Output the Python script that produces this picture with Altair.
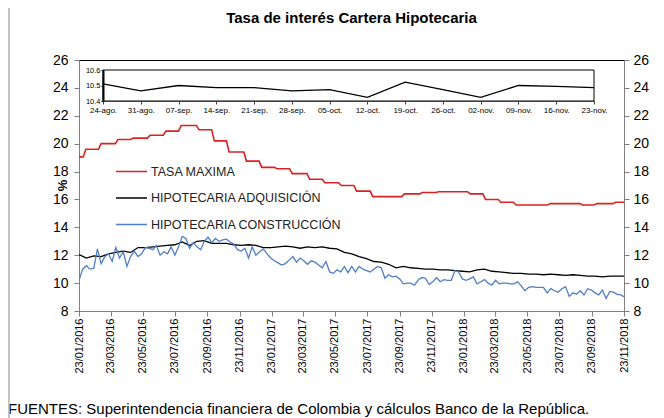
import altair as alt
import pandas as pd

# ---------------- data ----------------
start = "2016-01-23"
end = "2018-11-23"

# TASA MAXIMA: monthly levels (date the new level takes effect, value)
red_start = ["2016-01-23", "2016-02-03", "2016-03-03", "2016-04-04", "2016-05-03",
             "2016-06-04", "2016-07-04", "2016-08-02", "2016-09-05", "2016-10-04",
             "2016-11-01", "2016-12-04", "2017-01-02", "2017-01-31", "2017-03-01",
             "2017-04-03", "2017-05-02", "2017-06-02", "2017-07-01", "2017-08-01",
             "2017-09-30", "2017-11-03", "2017-12-04", "2018-02-02", "2018-03-03",
             "2018-04-01", "2018-04-30", "2018-07-04", "2018-09-03", "2018-09-30",
             "2018-11-05"]
red_val = [19.05, 19.6, 20.0, 20.3, 20.4, 20.6, 20.9, 21.3, 21.0, 20.2,
           19.4, 18.75, 18.3, 18.2, 17.85, 17.45, 17.2, 17.0, 16.6, 16.2,
           16.4, 16.5, 16.55, 16.4, 16.0, 15.8, 15.6, 15.7, 15.6, 15.7,
           15.8]

# HIPOTECARIA ADQUISICION: every two weeks from start
black_val = [12.05, 11.8, 11.95, 11.9, 12.1, 12.2, 12.3, 12.2, 12.55, 12.55,
             12.6, 12.65, 12.7, 12.75, 12.95, 12.7, 13.0, 13.05, 12.85, 12.85,
             12.85, 12.75, 12.7, 12.75, 12.7, 12.55, 12.55, 12.6, 12.65, 12.6,
             12.5, 12.6, 12.55, 12.6, 12.5, 12.45, 12.2, 12.1, 11.9, 11.75,
             11.55, 11.5, 11.35, 11.1, 11.2, 11.1, 11.05, 11.0, 11.0, 10.95,
             10.95, 10.9, 10.85, 10.8, 10.95, 11.0, 10.85, 10.8, 10.75, 10.7,
             10.7, 10.65, 10.65, 10.6, 10.65, 10.6, 10.55, 10.6, 10.55, 10.5,
             10.5, 10.45, 10.5, 10.5, 10.5]

# HIPOTECARIA CONSTRUCCION: weekly from start
blue_val = [10.2, 11.0, 11.25, 11.0, 11.05, 12.45, 11.4, 11.9, 12.1, 11.55,
            12.55, 11.8, 12.25, 11.2, 11.9, 12.3, 11.9, 12.1, 12.55, 12.5,
            12.4, 12.7, 12.0, 12.25, 12.1, 12.6, 12.0, 12.6, 13.35, 13.2,
            12.5, 12.9, 12.6, 12.4, 13.0, 13.3, 12.9, 13.2, 13.0, 13.1,
            13.15, 12.95, 12.8, 12.4, 12.3, 12.5, 11.8, 12.6, 12.0, 12.25,
            12.45, 12.1, 11.8, 11.6, 11.45, 11.3, 11.4, 11.65, 11.9, 11.5,
            11.8, 11.6, 11.35, 11.6, 11.5, 11.3, 11.1, 11.55, 10.8, 10.7,
            10.95, 10.8, 11.2, 10.75, 11.2, 10.8, 11.2, 11.0, 10.9, 10.8,
            11.0, 11.2, 11.1, 10.35, 10.6, 10.45, 10.5, 10.3, 9.95, 10.0,
            10.0, 9.85, 10.2, 10.4, 10.35, 9.9, 10.1, 10.4, 10.1, 10.25,
            10.2, 10.2, 10.9, 10.8, 10.3, 10.2, 10.3, 10.45, 9.95, 10.1,
            10.25, 10.0, 9.85, 10.2, 9.95, 10.0, 10.0, 9.95, 9.95, 10.1,
            9.8, 9.45, 9.7, 9.75, 9.7, 9.7, 9.7, 9.3, 9.6, 9.45,
            9.35, 9.6, 9.75, 9.05, 9.3, 9.2, 9.45, 9.15, 9.6, 9.5,
            9.3, 9.15, 9.5, 8.9, 9.4, 9.35, 9.2, 9.15, 9.0]

series_names = ["TASA MAXIMA", "HIPOTECARIA ADQUISICIÓN", "HIPOTECARIA CONSTRUCCIÓN"]
series_colors = ["#DA2222", "#000000", "#4F7FC4"]

# inset: last weeks of HIPOTECARIA ADQUISICION
inset_labels = ["24-ago.", "31-ago.", "07-sep.", "14-sep.", "21-sep.", "28-sep.",
                "05-oct.", "12-oct.", "19-oct.", "26-oct.", "02-nov.", "09-nov.",
                "16-nov.", "23-nov."]
inset_val = [10.51, 10.465, 10.50, 10.486, 10.486, 10.465, 10.474, 10.423,
             10.522, 10.474, 10.423, 10.50, 10.495, 10.486]

x_tick_years_months = [(2016, 1), (2016, 3), (2016, 5), (2016, 7), (2016, 9), (2016, 11),
                       (2017, 1), (2017, 3), (2017, 5), (2017, 7), (2017, 9), (2017, 11),
                       (2018, 1), (2018, 3), (2018, 5), (2018, 7), (2018, 9), (2018, 11)]
y_ticks = [8, 10, 12, 14, 16, 18, 20, 22, 24, 26]
inset_y_ticks = [10.4, 10.5, 10.6]

title_text = "Tasa de interés Cartera Hipotecaria"
footer_text = "FUENTES: Superintendencia financiera de Colombia y cálculos Banco de la República."

# ---------------- tables ----------------
starts = [pd.Timestamp(d) for d in red_start]
red_rows = []
for i, (s, v) in enumerate(zip(starts, red_val)):
    a = s if i == 0 else s + pd.Timedelta(days=2)
    b = starts[i + 1] - pd.Timedelta(days=3) if i + 1 < len(starts) else pd.Timestamp(end)
    red_rows.append((a, v))
    red_rows.append((b, v))
red_df = pd.DataFrame(red_rows, columns=["fecha", "valor"])
red_df["serie"] = series_names[0]

black_df = pd.DataFrame({"fecha": pd.date_range(start, periods=len(black_val), freq="14D"),
                         "valor": black_val})
black_df["serie"] = series_names[1]

blue_df = pd.DataFrame({"fecha": pd.date_range(start, periods=len(blue_val), freq="7D"),
                        "valor": blue_val})
blue_df["serie"] = series_names[2]

inset_df = pd.DataFrame({"semana": inset_labels, "tasa": inset_val})
box_df = pd.DataFrame({"semana": [inset_labels[0]], "b": [inset_labels[-1]],
                       "tasa": [inset_y_ticks[0]], "hi": [inset_y_ticks[-1]]})

# ---------------- layout ----------------
W, H = 545, 251
FONT = "Liberation Sans"
GRAY = "#808080"


def dt(y, m, d):
    return alt.DateTime(year=y, month=m, date=d)


x_vals = [dt(y, m, 23) for (y, m) in x_tick_years_months]
x_scale = alt.Scale(domain=[dt(2016, 1, 23), dt(2018, 11, 23)])
y_scale = alt.Scale(domain=[8, 26], zero=False, nice=False)

x_main = alt.X("fecha:T", scale=x_scale,
               axis=alt.Axis(orient="bottom", values=x_vals, format="%d/%m/%Y",
                             labelAngle=270, labelFontSize=11, labelPadding=2,
                             tickSize=5, tickColor=GRAY, domainColor=GRAY,
                             labelColor="black", grid=False, title=None))
y_main = alt.Y("valor:Q", scale=y_scale,
               axis=alt.Axis(orient="left", values=y_ticks, labelFontSize=14,
                             labelPadding=6, tickSize=5, tickColor=GRAY,
                             domainColor=GRAY, labelColor="black", grid=False,
                             title="%", titleAngle=270, titleFontSize=13,
                             titleFontWeight="bold", titleX=-17, titleY=125,
                             titleBaseline="middle", titleAlign="center"))
color = alt.Color("serie:N",
                  scale=alt.Scale(domain=series_names, range=series_colors),
                  legend=alt.Legend(title=None, orient="none", legendX=36, legendY=95,
                                    symbolType="stroke", symbolSize=961,
                                    symbolStrokeWidth=1.5, labelFontSize=12.5,
                                    labelOffset=3, rowPadding=3.5, labelLimit=0,
                                    labelColor="#222222"))

red_line = alt.Chart(red_df).mark_line(strokeWidth=1.6, clip=True).encode(
    x=x_main, y=y_main, color=color)
black_line = alt.Chart(black_df).mark_line(strokeWidth=1.3, clip=True).encode(
    x=x_main, y=y_main, color=color)
blue_line = alt.Chart(blue_df).mark_line(strokeWidth=1.3, clip=True).encode(
    x=x_main, y=y_main, color=color)
main = alt.layer(red_line, black_line, blue_line)

# right-hand copy of the y axis
right = alt.Chart(black_df).mark_line(opacity=0).encode(
    x=alt.X("fecha:T", scale=x_scale, axis=None),
    y=alt.Y("valor:Q", scale=y_scale,
            axis=alt.Axis(orient="right", values=y_ticks, labelFontSize=14,
                          labelPadding=4, tickSize=5, tickColor=GRAY,
                          domainColor=GRAY, labelColor="black", grid=False, title=None)))

# inset chart
ix_scale = alt.Scale(type="point", domain=inset_labels, range=[24, 515], padding=0)
iy_scale = alt.Scale(domain=[10.4, 10.6], range=[41, 10], zero=False, nice=False)
ix = alt.X("semana:O", scale=ix_scale,
           axis=alt.Axis(orient="bottom", offset=-(H - 41), labelAngle=0,
                         labelFontSize=8, labelPadding=2, tickSize=3,
                         tickColor="#404040", domainColor="#404040",
                         labelColor="black", title=None, grid=False))
iy = alt.Y("tasa:Q", scale=iy_scale,
           axis=alt.Axis(orient="left", offset=-24, values=inset_y_ticks,
                         format=".1f", labelFontSize=7.5, labelPadding=1, tickSize=2,
                         tickColor="black", domainColor="black", domainWidth=2,
                         labelColor="black", title=None, grid=False))
box = alt.Chart(box_df).mark_rect(fillOpacity=0, stroke="black", strokeWidth=1).encode(
    x=ix, x2="b", y=iy, y2="hi")
inset_line = alt.Chart(inset_df).mark_line(color="black", strokeWidth=1.3).encode(
    x=ix, y=iy)
inset = alt.layer(box, inset_line)

title = alt.Chart(pd.DataFrame({"t": [title_text]})).mark_text(
    align="center", baseline="middle", fontSize=15, fontWeight="bold", font=FONT,
    color="black").encode(x=alt.value(W / 2), y=alt.value(-42), text="t:N")

footer = alt.Chart(pd.DataFrame({"t": [footer_text]})).mark_text(
    align="left", baseline="middle", fontSize=15, font=FONT, color="black").encode(
    x=alt.value(-71), y=alt.value(349), text="t:N")

frame_line = alt.Chart(pd.DataFrame({"k": [0]})).mark_rule(
    color="#B0B0B0", strokeWidth=1.5).encode(
    x=alt.value(-70), y=alt.value(-52), y2=alt.value(360))

chart = alt.layer(main, right, inset, title, footer, frame_line).resolve_scale(
    x="independent", y="independent"
).properties(
    width=W, height=H,
    autosize=alt.AutoSizeParams(type="none"),
    padding={"left": 71, "top": 52, "right": 32, "bottom": 108},
).configure(font=FONT).configure_view(stroke="black", strokeWidth=1)

chart.save("out.html", embed_options={"renderer": "svg", "actions": False})
